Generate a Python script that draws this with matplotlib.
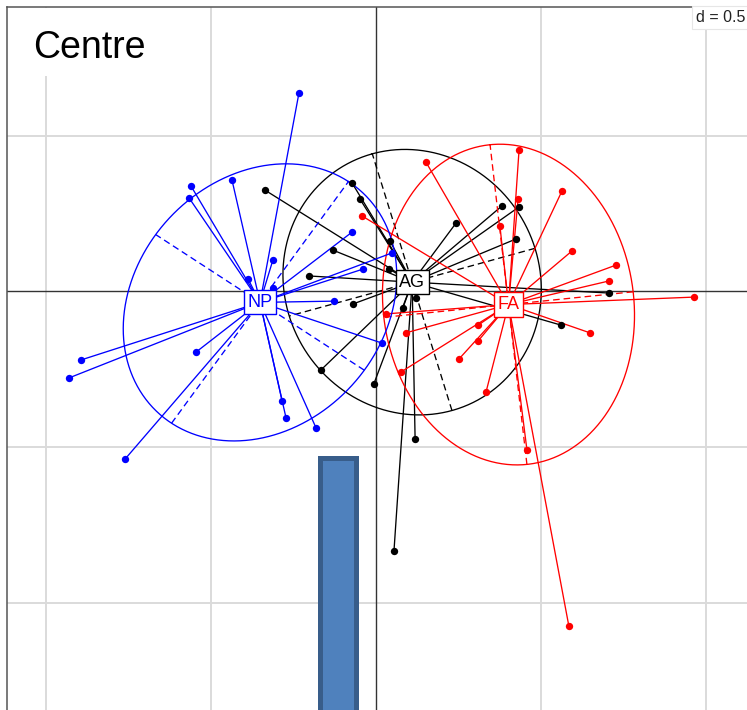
import numpy as np
import matplotlib
matplotlib.use("Agg")
import matplotlib.pyplot as plt
from matplotlib.patches import Rectangle

# ---- data: factorial scores of individuals, grouped by class ----
np_x = [-0.232, -0.559, -0.565, -0.435, -0.386, -0.311, -0.311, -0.071, -0.038, -0.126,
        -0.892, -0.929, -0.544, -0.759, -0.283, -0.271, -0.180, 0.020, 0.050]
np_y = [0.638, 0.339, 0.301, 0.359, 0.040, 0.101, 0.011, 0.191, 0.072, -0.031,
        -0.220, -0.278, -0.195, -0.539, -0.352, -0.407, -0.439, -0.166, 0.124]

ag_x = [-0.335, -0.071, -0.047, -0.129, -0.202, 0.044, 0.041, 0.244, 0.383, 0.435,
        0.426, 0.708, 0.562, 0.123, 0.083, -0.005, 0.120, 0.056, -0.068, -0.165]
ag_y = [0.326, 0.349, 0.297, 0.133, 0.050, 0.162, 0.072, 0.220, 0.275, 0.272,
        0.169, -0.005, -0.108, -0.021, -0.053, -0.297, -0.474, -0.834, -0.040, -0.252]

fa_x = [0.153, 0.435, 0.565, 0.432, 0.377, 0.595, 0.729, 0.708, 0.965, -0.041,
        0.650, 0.032, 0.092, 0.311, 0.311, 0.253, 0.077, 0.335, 0.459, 0.586]
fa_y = [0.416, 0.455, 0.323, 0.297, 0.211, 0.130, 0.085, 0.034, -0.018, 0.243,
        -0.133, -0.072, -0.133, -0.108, -0.159, -0.217, -0.259, -0.323, -0.510, -1.076]

class_names = ["NP", "AG", "FA"]
class_colors = ["#0000ff", "#000000", "#ff0000"]

# class centres and inertia ellipses (semi-axes and major-axis angle, degrees)
centre_x = [-0.350, 0.111, 0.403]
centre_y = [-0.035, 0.030, -0.042]
ell_major = [0.472, 0.430, 0.517]
ell_minor = [0.384, 0.388, 0.380]
ell_angle = [55.4, 106.3, 96.2]

grid_step = 0.5
bar_center = -0.1136
bar_width = 0.112
bar_top = -0.534

# ---- figure ----
W, H = 747, 710
fig = plt.figure(figsize=(W / 100, H / 100), dpi=100)
plt.rcParams['font.family'] = ['Liberation Sans', 'DejaVu Sans']

left_px, top_px, right_px, bottom_px = 7, 7, 760, 720
ax = fig.add_axes([left_px / W, 1 - bottom_px / H,
                   (right_px - left_px) / W, (bottom_px - top_px) / H])

for sp in ax.spines.values():
    sp.set_color("#555555")
    sp.set_linewidth(1.1)
ax.set_xticks([t for t in np.arange(-2, 2.01, grid_step) if abs(t) > 1e-9])
ax.set_yticks([t for t in np.arange(-2, 2.01, grid_step) if abs(t) > 1e-9])
ax.grid(True, color="#dadada", linewidth=1.4, zorder=0)
ax.set_axisbelow(True)
ax.tick_params(length=0, labelbottom=False, labelleft=False)
ax.axhline(0, color="#333333", linewidth=1.0, zorder=1)
ax.axvline(0, color="#333333", linewidth=1.0, zorder=1)


def class_star(ax, xs, ys, mx, my, a, b, ang, color):
    # spokes from the class centre
    for x, y in zip(xs, ys):
        ax.plot([mx, x], [my, y], color=color, linewidth=0.95, zorder=3)
    th = np.deg2rad(ang)
    u1 = np.array([np.cos(th), np.sin(th)]) * a
    u2 = np.array([-np.sin(th), np.cos(th)]) * b
    t = np.linspace(0, 2 * np.pi, 300)
    ex = mx + u1[0] * np.cos(t) + u2[0] * np.sin(t)
    ey = my + u1[1] * np.cos(t) + u2[1] * np.sin(t)
    ax.plot(ex, ey, color=color, linewidth=0.95, zorder=3)
    for u in (u1, u2):
        ax.plot([mx - u[0], mx + u[0]], [my - u[1], my + u[1]],
                color=color, linewidth=0.95, linestyle=(0, (5, 3)), zorder=3)


groups = list(zip([np_x, ag_x, fa_x], [np_y, ag_y, fa_y], centre_x, centre_y,
                  ell_major, ell_minor, ell_angle, class_colors))
# draw order: AG, FA, then NP on top
for idx in (1, 2, 0):
    xs, ys, mx, my, a, b, ang, col = groups[idx]
    class_star(ax, xs, ys, mx, my, a, b, ang, col)
    ax.scatter(xs, ys, s=28, color=col, zorder=4, linewidths=0)

for mx, my, col, name in zip(centre_x, centre_y, class_colors, class_names):
    ax.text(mx, my, name, color=col, fontsize=13, ha="center", va="center",
            zorder=6,
            bbox=dict(boxstyle="square,pad=0.2", facecolor="white",
                      edgecolor=col, linewidth=1.0))

# overlaid bar
ax.bar([bar_center], [bar_top + 2.0], bottom=-2.0, width=bar_width,
       color="#4f81bd", edgecolor="#385d8a", linewidth=3.6, zorder=7)

ax.set_xlim(-368.5 / 330, 384.5 / 330)
ax.set_ylim((291.5 - 720) / 311, 284.5 / 311)

# title panel
fig.patches.append(Rectangle((8 / W, 1 - 76 / H), 180 / W, 68 / H,
                             transform=fig.transFigure, facecolor="white",
                             edgecolor="none", zorder=8))
fig.text(33 / W, 1 - 58 / H, "Centre", fontsize=27, ha="left",
         va="baseline", color="black", zorder=9)

# grid scale box
fig.text(696 / W, 1 - 17.5 / H, "d = 0.5", fontsize=11.5, ha="left",
         va="center", color="#222222", zorder=9,
         bbox=dict(boxstyle="square,pad=0.25", facecolor="white",
                   edgecolor="#e6e6e6", linewidth=0.8))

fig.savefig("out.png", dpi=100)
